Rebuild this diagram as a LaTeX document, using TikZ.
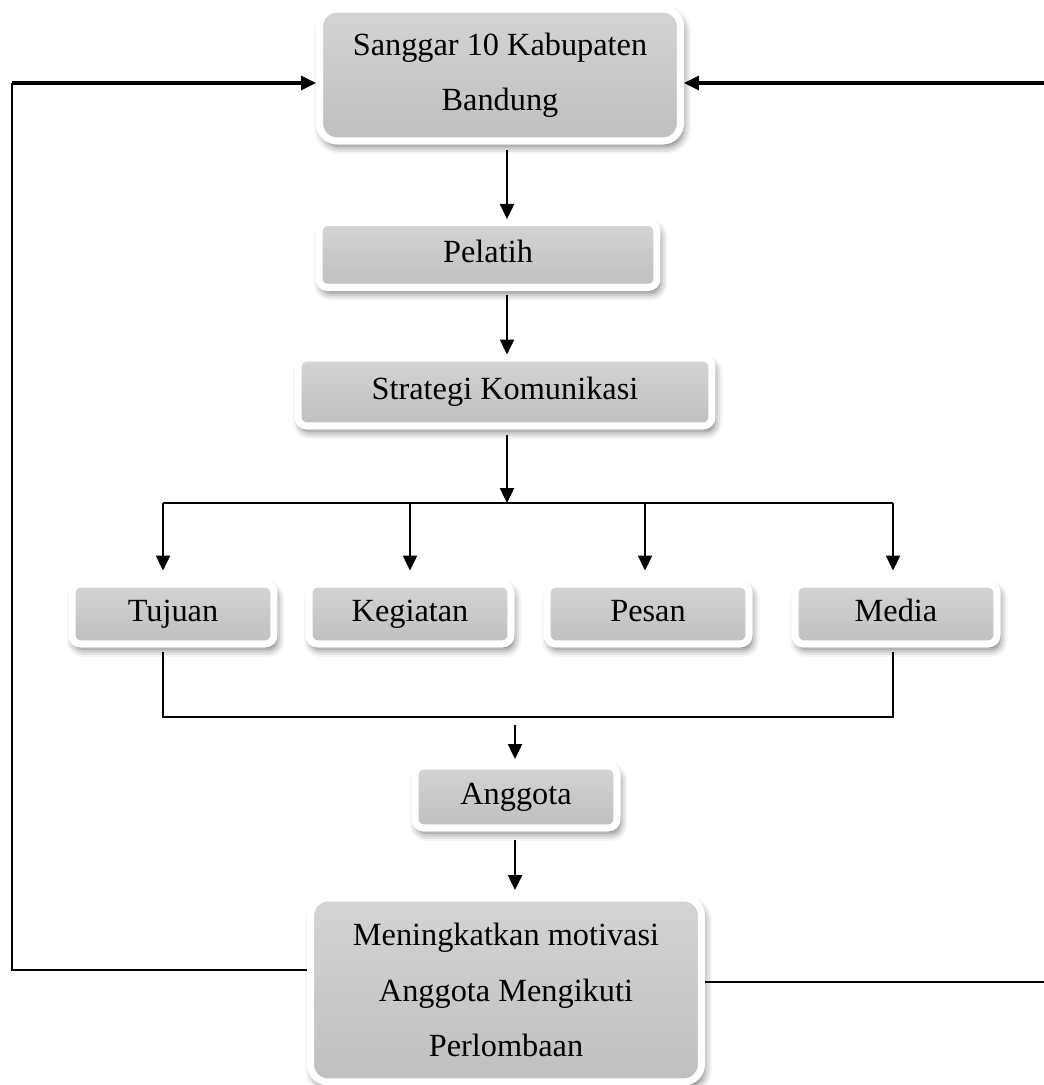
\documentclass[tikz,border=0pt]{standalone}
\usepackage{fontspec}
\setmainfont{Liberation Serif}
\usetikzlibrary{arrows.meta,shadows.blur}
\tikzset{
  stepbox/.style={draw=white, line width=4pt, rounded corners=5pt,
    top color=black!17, bottom color=black!25,
    blur shadow={shadow xshift=1.5pt, shadow yshift=-3pt, shadow blur radius=4.5pt, shadow opacity=60},
    font=\fontsize{18.4}{31.5}\selectfont, align=center, inner sep=0pt,
    minimum width=4.04cm, minimum height=1.2cm},
  onebox/.style={stepbox, text height=0.86em, text depth=0.04em},
  bigbox/.style={stepbox, rounded corners=10pt},
  flow/.style={line width=1.4pt, -{Triangle[length=0.3cm,width=0.28cm]}},
  loopin/.style={flow, line width=1.8pt},
  link/.style={line width=0.7pt}
}
\begin{document}
\begin{tikzpicture}[x=0.02cm, y=-0.02cm]
  \useasboundingbox (0,0) rectangle (1044,1085);
  % boxes
  \node[bigbox, minimum width=7.22cm, minimum height=2.64cm] (sanggar) at (500,75) {Sanggar 10 Kabupaten\\Bandung};
  \node[onebox, minimum width=6.76cm, minimum height=1.3cm] (pelatih) at (488,255) {Pelatih};
  \node[onebox, minimum width=8.28cm, minimum height=1.36cm] (strategi) at (505,392) {Strategi Komunikasi};
  \node[onebox] (tujuan) at (173,614) {Tujuan};
  \node[onebox] (kegiatan) at (410,614) {Kegiatan};
  \node[onebox] (pesan) at (648,614) {Pesan};
  \node[onebox] (media) at (896,614) {Media};
  \node[onebox, minimum height=1.24cm] (anggota) at (516,797) {Anggota};
  \node[bigbox, minimum width=7.82cm, minimum height=3.68cm] (motivasi) at (506,990) {Meningkatkan motivasi\\Anggota Mengikuti\\Perlombaan};
  % helper points
  \coordinate (spine) at (507,0);
  \coordinate (hub) at (515,0);
  \coordinate (busTop) at (0,503);
  \coordinate (busLow) at (0,717);
  \coordinate (railL) at (12,0);
  \coordinate (railR) at (1060,0);
  \coordinate (inL) at ([yshift=-0.16cm]sanggar.west);
  \coordinate (inR) at ([yshift=-0.16cm]sanggar.east);
  \coordinate (outL) at ([yshift=0.4cm]motivasi.west);
  \coordinate (outR) at ([yshift=0.16cm]motivasi.east);
  % main flow
  \draw[flow, shorten <=0.11cm] (sanggar.south -| spine) -- (pelatih.north -| spine);
  \draw[flow, shorten <=0.08cm] (pelatih.south -| spine) -- (strategi.north -| spine);
  \draw[flow, shorten <=0.1cm] (strategi.south -| spine) -- (spine |- busTop);
  \draw[line width=0.9pt] ([xshift=-0.2cm]tujuan.north |- busTop) -- ([xshift=-0.06cm]media.north |- busTop);
  \foreach \n/\dx in {tujuan/-0.2, kegiatan/0, pesan/-0.06, media/-0.06}
    \draw[flow, shorten >=0.2cm] ([xshift=\dx cm]\n.north |- busTop) -- ([xshift=\dx cm]\n.north);
  \draw[link] ([xshift=-0.2cm, yshift=-0.08cm]tujuan.south) |- ([xshift=-0.06cm]media.south |- busLow)
    -- ([xshift=-0.06cm, yshift=-0.08cm]media.south);
  \draw[flow, shorten <=0.16cm, shorten >=0.07cm] (hub |- busLow) -- (anggota.north -| hub);
  \draw[flow, shorten <=0.17cm, shorten >=0.09cm] (anggota.south -| hub) -- (motivasi.north -| hub);
  % feedback loops
  \draw[link, line width=0.9pt] (outL) -| (railL |- inL);
  \draw[loopin] (railL |- inL) -- (inL);
  \draw[link] (outR) -- (railR |- outR) -- (railR |- inR);
  \draw[loopin] (railR |- inR) -- (inR);
\end{tikzpicture}
\end{document}
